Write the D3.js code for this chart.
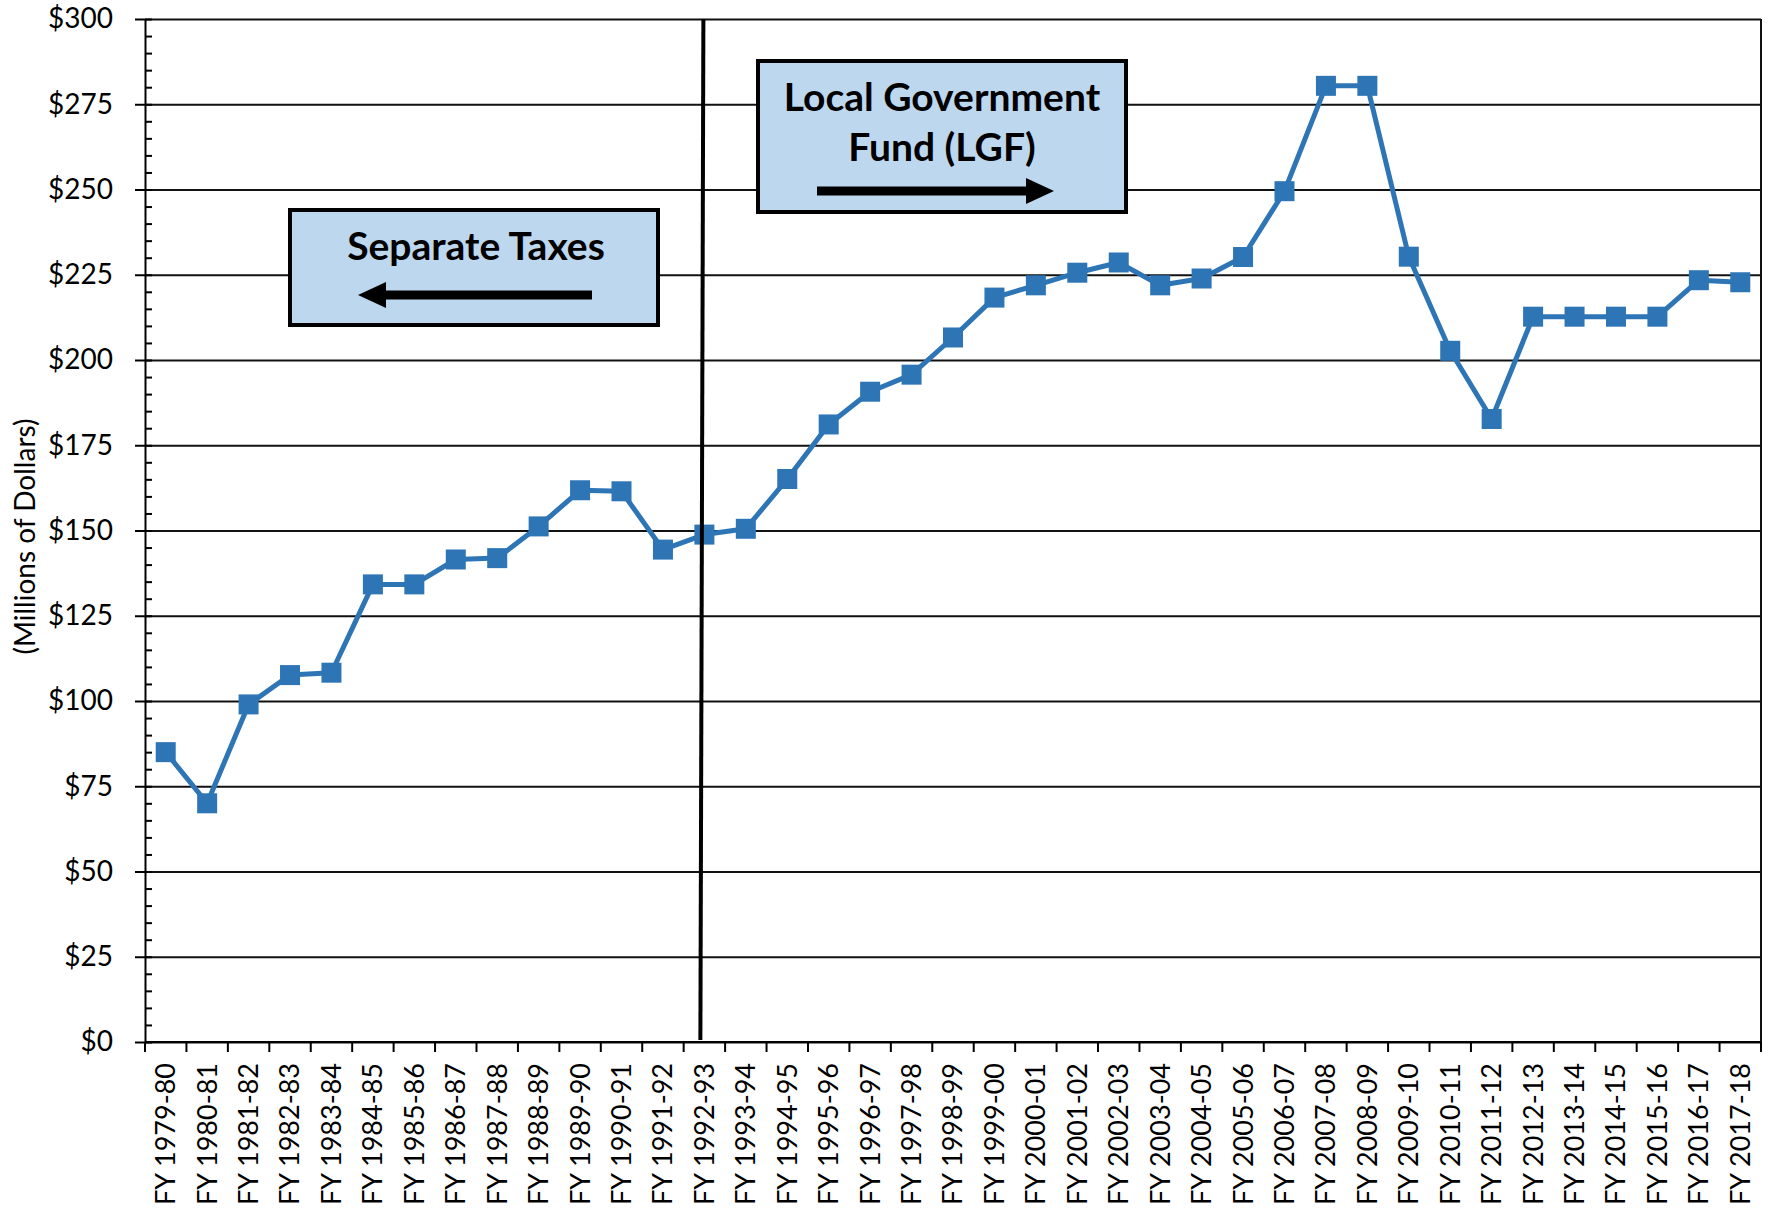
<!DOCTYPE html>
<html>
<head>
<meta charset="utf-8">
<script src="https://cdn.jsdelivr.net/npm/d3@7"></script>
<style>
  body { margin: 0; background: #fff; }
  svg { display: block; font-family: Lato, "Open Sans", sans-serif; }
  .grid line { stroke: #111; stroke-width: 1.8; }
  .grid path { display: none; }
  .axis path, .axis line { stroke: #000; stroke-width: 2; }
  .axis text { fill: #000; font-size: 27px; font-family: Lato, "Open Sans", sans-serif; }
  .yaxis text { font-size: 28px; }
  .minor path { display: none; }
  .minor line { stroke: #000; stroke-width: 2; }
</style>
</head>
<body>
<svg id="chart" width="1773" height="1208"></svg>
<script>
const years = [
  "FY 1979-80", "FY 1980-81", "FY 1981-82", "FY 1982-83", "FY 1983-84",
  "FY 1984-85", "FY 1985-86", "FY 1986-87", "FY 1987-88", "FY 1988-89",
  "FY 1989-90", "FY 1990-91", "FY 1991-92", "FY 1992-93", "FY 1993-94",
  "FY 1994-95", "FY 1995-96", "FY 1996-97", "FY 1997-98", "FY 1998-99",
  "FY 1999-00", "FY 2000-01", "FY 2001-02", "FY 2002-03", "FY 2003-04",
  "FY 2004-05", "FY 2005-06", "FY 2006-07", "FY 2007-08", "FY 2008-09",
  "FY 2009-10", "FY 2010-11", "FY 2011-12", "FY 2012-13", "FY 2013-14",
  "FY 2014-15", "FY 2015-16", "FY 2016-17", "FY 2017-18"
];
const amounts = [
  85.0, 70.0, 99.0, 107.6, 108.3, 134.2, 134.2, 141.5, 141.9, 151.2,
  161.8, 161.5, 144.4, 148.8, 150.5, 165.1, 181.1, 190.7, 195.7, 206.6,
  218.3, 221.9, 225.6, 228.6, 221.9, 223.9, 230.2, 249.5, 280.4, 280.4,
  230.3, 202.7, 182.7, 212.7, 212.7, 212.7, 212.7, 223.4, 222.8
];
const yTicks = [0, 25, 50, 75, 100, 125, 150, 175, 200, 225, 250, 275, 300];
const minorTicks = d3.range(0, 301, 5);
const yTitle = "(Millions of Dollars)";
const splitYear = "FY 1992-93";

const svg = d3.select("#chart");
const plotL = 145, plotR = 1761, plotT = 19, plotB = 1042;

const x = d3.scaleBand().domain(years).range([plotL, plotR]).padding(0);
const y = d3.scaleLinear().domain([0, 300]).range([plotB, plotT]);
const cx = d => x(d) + x.bandwidth() / 2;

// gridlines
svg.append("g")
  .attr("class", "grid")
  .attr("transform", `translate(${plotL},0)`)
  .call(d3.axisLeft(y).tickValues(yTicks).tickSize(-(plotR - plotL)).tickFormat(""));

// right border
svg.append("line")
  .attr("x1", plotR).attr("x2", plotR)
  .attr("y1", plotT).attr("y2", plotB)
  .attr("stroke", "#111").attr("stroke-width", 2);

// minor ticks
svg.append("g")
  .attr("class", "minor")
  .attr("transform", `translate(${plotL},0)`)
  .call(d3.axisRight(y).tickValues(minorTicks).tickSize(7).tickFormat(""));

// y axis
svg.append("g")
  .attr("class", "axis yaxis")
  .attr("transform", `translate(${plotL},0)`)
  .call(d3.axisLeft(y).tickValues(yTicks).tickSize(10).tickSizeOuter(0)
    .tickPadding(22).tickFormat(d => "$" + d));

// x axis with ticks at category boundaries
const xAxis = svg.append("g")
  .attr("class", "axis")
  .attr("transform", `translate(0,${plotB})`);
xAxis.append("line")
  .attr("x1", plotL).attr("x2", plotR)
  .attr("stroke", "#000").attr("stroke-width", 2);
xAxis.selectAll(".bt")
  .data(years.concat(["end"]))
  .enter().append("line")
  .attr("x1", (d, i) => i < years.length ? x(d) : plotR)
  .attr("x2", (d, i) => i < years.length ? x(d) : plotR)
  .attr("y1", 0).attr("y2", 10)
  .attr("stroke", "#000").attr("stroke-width", 2);
xAxis.selectAll(".lbl")
  .data(years)
  .enter().append("text")
  .attr("transform", d => `translate(${cx(d)},21) rotate(-90)`)
  .attr("text-anchor", "end")
  .attr("dy", "0.35em")
  .text(d => d);

// y title
svg.append("text")
  .attr("transform", `translate(25,${(plotT + plotB) / 2 + 6}) rotate(-90)`)
  .attr("text-anchor", "middle")
  .attr("dy", "0.35em")
  .attr("font-size", 28)
  .text(yTitle);

// series
const blue = "#2E75B6";
svg.append("path")
  .datum(amounts)
  .attr("fill", "none")
  .attr("stroke", blue)
  .attr("stroke-width", 5)
  .attr("stroke-linejoin", "round")
  .attr("d", d3.line().x((d, i) => cx(years[i])).y(d => y(d)));

svg.selectAll(".mk")
  .data(amounts)
  .enter().append("rect")
  .attr("x", (d, i) => cx(years[i]) - 10)
  .attr("y", d => y(d) - 10)
  .attr("width", 20).attr("height", 20)
  .attr("fill", blue);

// split line
svg.append("line")
  .attr("x1", cx(splitYear) - 1).attr("y1", plotT)
  .attr("x2", cx(splitYear) - 4).attr("y2", plotB - 2)
  .attr("stroke", "#000").attr("stroke-width", 4);

// annotation boxes
function box(x0, y0, w, h) {
  svg.append("rect")
    .attr("x", x0).attr("y", y0).attr("width", w).attr("height", h)
    .attr("fill", "#BDD7EE").attr("stroke", "#000").attr("stroke-width", 4);
}
function arrow(x1, x2, yy) {
  const dir = Math.sign(x2 - x1);
  const headLen = 28, headH = 13;
  svg.append("line")
    .attr("x1", x1).attr("x2", x2 - dir * headLen + dir * 2)
    .attr("y1", yy).attr("y2", yy)
    .attr("stroke", "#000").attr("stroke-width", 9);
  svg.append("path")
    .attr("d", `M${x2},${yy} L${x2 - dir * headLen},${yy - headH} L${x2 - dir * headLen},${yy + headH} Z`)
    .attr("fill", "#000");
}

box(290, 210, 368, 115);
svg.append("text")
  .attr("x", 476).attr("y", 260)
  .attr("text-anchor", "middle")
  .attr("font-size", 39).attr("font-weight", "bold")
  .text("Separate Taxes");
arrow(592, 358, 295);

box(758, 61, 368, 151);
svg.append("text")
  .attr("x", 942).attr("y", 111)
  .attr("text-anchor", "middle")
  .attr("font-size", 39).attr("font-weight", "bold")
  .text("Local Government");
svg.append("text")
  .attr("x", 942).attr("y", 161)
  .attr("text-anchor", "middle")
  .attr("font-size", 39).attr("font-weight", "bold")
  .text("Fund (LGF)");
arrow(817, 1054, 191);
</script>
</body>
</html>
